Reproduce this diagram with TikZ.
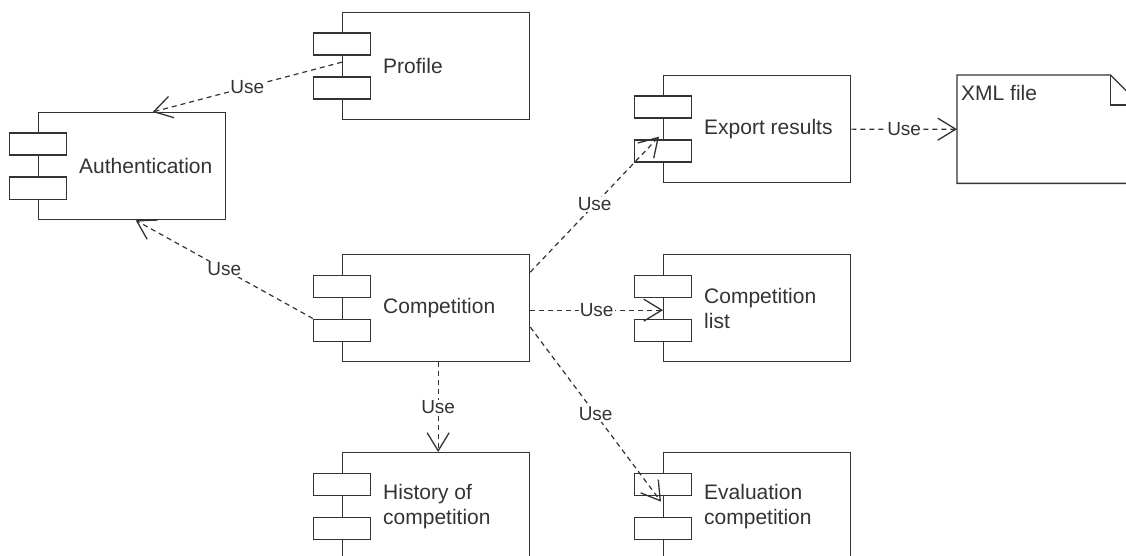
\documentclass[tikz,border=0pt]{standalone}
\usepackage{fontspec}
\setmainfont{Liberation Sans}
\usetikzlibrary{arrows.meta,calc}
\definecolor{ink}{HTML}{333333}
\begin{document}
\begin{tikzpicture}[x=1pt,y=-1pt,
  compbody/.style={draw=ink, line width=1.3pt, fill=white, minimum width=187pt, minimum height=107pt, inner sep=0pt, anchor=north west},
  comptext/.style={anchor=west, text=ink, font=\fontsize{21}{25}\selectfont, align=left, inner sep=0pt},
  port/.style={draw=ink, line width=1.3pt, fill=white, minimum width=57pt, minimum height=22pt, inner sep=0pt},
  usedep/.style={draw=ink, line width=1.2pt, dash pattern=on 5pt off 4pt, -{Straight Barb[length=18pt,width=22pt,line width=1.3pt]}},
  lbl/.style={fill=white, text=ink, font=\fontsize{19}{22}\selectfont, inner sep=1pt}
]
\useasboundingbox (0,0) rectangle (1126,556);
\clip (0,0) rectangle (1126,556);
\fill[white] (0,0) rectangle (1126,556);

% component bodies
\node[compbody] (profile) at (342,12) {};
\node[compbody] (auth) at (38,112) {};
\node[compbody] (export) at (663,75) {};
\node[compbody] (comp) at (342,254) {};
\node[compbody] (list) at (663,254) {};
\node[compbody] (hist) at (342,452) {};
\node[compbody] (eval) at (663,452) {};

% ports
\foreach \c in {profile,auth,export,comp,list,hist,eval}{
  \node[port] (\c-p1) at ($(\c.west)+(0,-22)$) {};
  \node[port] (\c-p2) at ($(\c.west)+(0,22)$) {};
}

% texts
\node[comptext] (tprofile) at ($(profile.west)+(41,0)$) {Profile};
\node[comptext] (tauth) at ($(auth.west)+(41,0)$) {Authentication};
\node[comptext] (texport) at ($(export.west)+(41,0)$) {Export results};
\node[comptext] (tcomp) at ($(comp.west)+(41,0)$) {Competition};
\node[comptext] (tlist) at ($(list.west)+(41,0)$) {Competition\\list};
\node[comptext] (thist) at ($(hist.west)+(41,0)$) {History of\\competition};
\node[comptext] (teval) at ($(eval.west)+(41,0)$) {Evaluation\\competition};

% XML file note
\node[minimum width=183pt, minimum height=108pt, inner sep=0pt, anchor=north west] (xml) at (957,75) {};
\draw[ink, line width=1.3pt, fill=white] (xml.north west) -- ($(xml.north east)+(-30,0)$) -- ($(xml.north east)+(0,30)$) -- (xml.south east) -- (xml.south west) -- cycle;
\draw[ink, line width=1.3pt] ($(xml.north east)+(-30,0)$) -- ($(xml.north east)+(-30,30)$) -- ($(xml.north east)+(0,30)$);
\node[comptext] (txml) at ($(xml.north west)+(4,18)$) {XML file};

% dependencies
\draw[usedep] ($(profile.west)+(0,-4)$) -- node[lbl] (l1) {Use} ($(auth.north)+(20.5,0)$);
\draw[usedep] (comp-p2.north west) -- node[lbl] (l2) {Use} ($(auth.south)+(3.5,0)$);
\draw[usedep] ($(comp.east)+(0,-36)$) -- node[lbl] (l3) {Use} ($(export.west)+(-4,7.5)$);
\draw[usedep] ($(comp.east)+(0,2)$) -- node[lbl] (l4) {Use} ($(list.west)+(0,2)$);
\draw[usedep] ($(comp.east)+(0,19)$) -- node[lbl] (l5) {Use} ($(eval.west)+(-2,-4.5)$);
\draw[usedep] ($(comp.south)+(2,0)$) -- node[lbl] (l6) {Use} ($(hist.north)+(2,0)$);
\draw[usedep] (export.east) -- node[lbl] (l7) {Use} (xml.west);
\end{tikzpicture}
\end{document}
